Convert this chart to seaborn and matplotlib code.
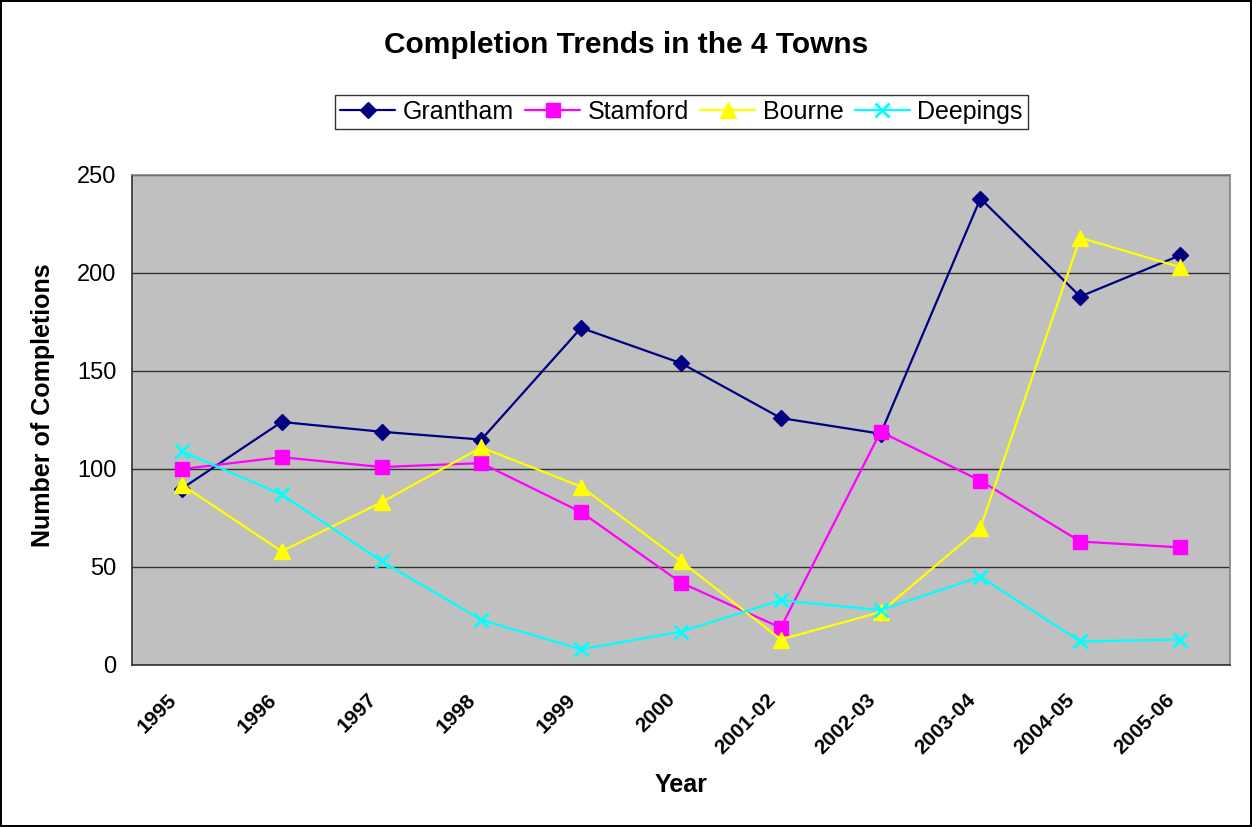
import matplotlib
matplotlib.use("Agg")
import matplotlib.pyplot as plt
import matplotlib.transforms as mtransforms
import seaborn as sns
import pandas as pd

years = ["1995", "1996", "1997", "1998", "1999", "2000", "2001-02",
         "2002-03", "2003-04", "2004-05", "2005-06"]
grantham = [90, 124, 119, 115, 172, 154, 126, 118, 238, 188, 209]
stamford = [100, 106, 101, 103, 78, 42, 19, 119, 94, 63, 60]
bourne = [92, 58, 83, 111, 91, 53, 13, 27, 70, 218, 203]
deepings = [109, 87, 53, 23, 8, 17, 33, 28, 45, 12, 13]

series = {"Grantham": grantham, "Stamford": stamford,
          "Bourne": bourne, "Deepings": deepings}
colors = {"Grantham": "#000080", "Stamford": "#FF00FF",
          "Bourne": "#FFFF00", "Deepings": "#00FFFF"}
markers = {"Grantham": "D", "Stamford": "s", "Bourne": "^", "Deepings": "x"}
msizes = {"Grantham": 8, "Stamford": 10, "Bourne": 11, "Deepings": 10}

sns.set_style("white")
plt.rcParams["font.family"] = ["Liberation Sans", "DejaVu Sans"]
for k in ["text.color", "axes.labelcolor", "xtick.color", "ytick.color"]:
    plt.rcParams[k] = "black"

fig = plt.figure(figsize=(12.52, 8.27), dpi=100)
fig.patch.set_facecolor("white")
fig.patch.set_edgecolor("black")
fig.patch.set_linewidth(1.5)
ax = fig.add_axes([0.1054, 0.1959, 0.877, 0.5925])
ax.set_facecolor("#C0C0C0")

pos = list(range(len(years)))
for name, vals in series.items():
    df = pd.DataFrame({"x": pos, "y": vals})
    sns.lineplot(data=df, x="x", y="y", ax=ax, color=colors[name],
                 marker=markers[name], markersize=msizes[name],
                 markeredgecolor=colors[name], markerfacecolor=colors[name],
                 markeredgewidth=2 if markers[name] == "x" else 1,
                 linewidth=1.6, label=name, legend=False)

ax.set_xlim(-0.5, len(years) - 0.5)
ax.set_ylim(0, 250)
ax.set_yticks([0, 50, 100, 150, 200, 250])
ax.yaxis.grid(True, color="#333333", linewidth=1)
ax.set_axisbelow(True)

ax.set_xticks([i - 0.5 for i in range(len(years) + 1)])
ax.set_xticklabels([])
ax.set_xticks(pos, minor=True)
ax.set_xticklabels(years, minor=True, rotation=45, ha="right",
                   rotation_mode="anchor", fontsize=15, fontweight="bold")
ax.tick_params(axis="x", which="minor", length=0, pad=18)
ax.tick_params(axis="x", which="major", direction="out", length=6, width=1,
               color="#202020")
ax.tick_params(axis="y", direction="out", length=7, width=1, color="#202020",
               labelsize=17, pad=4)
offset = mtransforms.ScaledTranslation(-0.15, 0, fig.dpi_scale_trans)
for lbl in ax.get_xticklabels(minor=True):
    lbl.set_transform(lbl.get_transform() + offset)

for s in ax.spines.values():
    s.set_color("#808080")
    s.set_linewidth(1.2)
ax.spines["left"].set_color("#303030")
ax.spines["bottom"].set_color("#303030")

ax.set_xlabel("Year", fontsize=18, fontweight="bold")
ax.xaxis.set_label_coords(0.5, -0.245)
ax.xaxis.label.set_va("center")
ax.set_ylabel("Number of Completions", fontsize=18, fontweight="bold")
ax.yaxis.set_label_coords(-0.081, 0.53)
ax.yaxis.label.set_va("center")

fig.text(0.5, 0.946, "Completion Trends in the 4 Towns", ha="center",
         va="center", fontsize=21.5, fontweight="bold")

handles, labels = ax.get_legend_handles_labels()
leg = fig.legend(handles, labels, loc="center", bbox_to_anchor=(0.5443, 0.865),
                 ncol=4, fontsize=18, frameon=True, fancybox=False,
                 edgecolor="black", borderpad=0.2, handlelength=2.2,
                 columnspacing=0.45, handletextpad=0.3, borderaxespad=0)
leg.get_frame().set_linewidth(1)

fig.savefig("out.png", dpi=100, facecolor=fig.get_facecolor(),
            edgecolor=fig.get_edgecolor())
